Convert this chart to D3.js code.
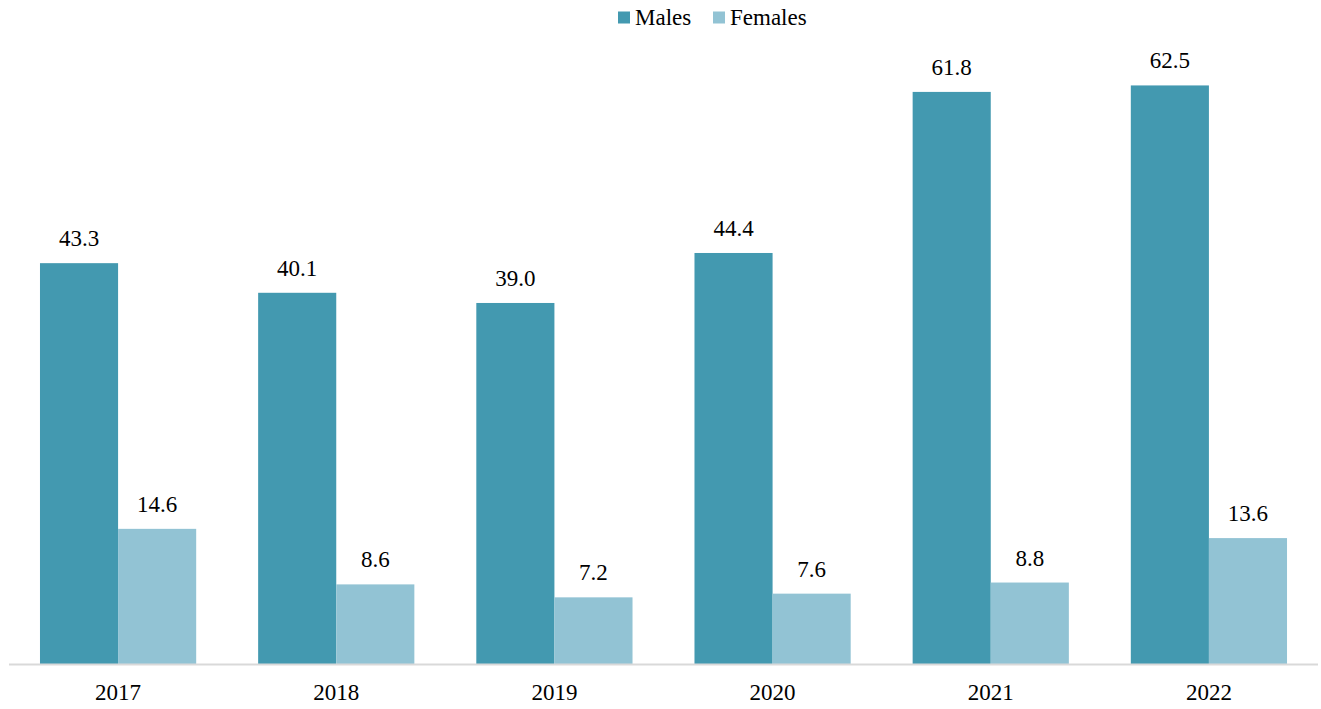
<!DOCTYPE html>
<html><head><meta charset="utf-8">
<script src="https://cdn.jsdelivr.net/npm/d3@7"></script>
<style>body{margin:0;background:#fff}svg{display:block}text{font-family:"Liberation Serif","Times New Roman",serif;fill:#000}</style>
</head><body><svg id="c" width="1321" height="709"></svg>
<script>
const years = ["2017","2018","2019","2020","2021","2022"];
const males = [43.3, 40.1, 39.0, 44.4, 61.8, 62.5];
const females = [14.6, 8.6, 7.2, 7.6, 8.8, 13.6];
const seriesNames = ["Males","Females"];
const colors = ["#4399b0","#92c3d4"];

const svg = d3.select("#c");
const W = 1321, H = 709;
const x0 = d3.scaleBand().domain(years).range([9, 1318]).paddingInner(0.284).paddingOuter(0.142);
const x1 = d3.scaleBand().domain(seriesNames).range([0, x0.bandwidth()]);
const y = d3.scaleLinear().domain([0, 70]).range([664, 16]);
const color = d3.scaleOrdinal().domain(seriesNames).range(colors);

const data = years.map((yr,i)=>({year:yr, vals:[{k:"Males",v:males[i]},{k:"Females",v:females[i]}]}));

const g = svg.append("g");
const grp = g.selectAll("g.grp").data(data).join("g").attr("transform", d=>`translate(${x0(d.year)},0)`);
grp.selectAll("rect").data(d=>d.vals).join("rect")
  .attr("x", d=>x1(d.k)).attr("width", x1.bandwidth())
  .attr("y", d=>y(d.v)).attr("height", d=>y(0)-y(d.v))
  .attr("fill", d=>color(d.k));
grp.selectAll("text.lbl").data(d=>d.vals).join("text").attr("class","lbl")
  .attr("x", d=>x1(d.k)+x1.bandwidth()/2).attr("y", d=>y(d.v)-17)
  .attr("text-anchor","middle").style("font-size","23px").text(d=>d.v.toFixed(1));

// axis
const ax = svg.append("g").attr("transform",`translate(0,${y(0)})`)
  .call(d3.axisBottom(x0).tickSize(0).tickPadding(20));
ax.select(".domain").attr("stroke","#d9d9d9").attr("stroke-width",2).attr("d","M9,0.5H1318");
ax.selectAll("text").style("font-size","23px").style("font-family",'"Liberation Serif","Times New Roman",serif').attr("fill","#000").attr("dy","0.71em");

// legend
const leg = svg.append("g");
const legX = [618, 713];
seriesNames.forEach((s,i)=>{
  leg.append("rect").attr("x",legX[i]).attr("y",11.5).attr("width",12).attr("height",12).attr("fill",colors[i]);
  leg.append("text").attr("x",legX[i]+17).attr("y",25).style("font-size","23px").text(s);
});
</script></body></html>
